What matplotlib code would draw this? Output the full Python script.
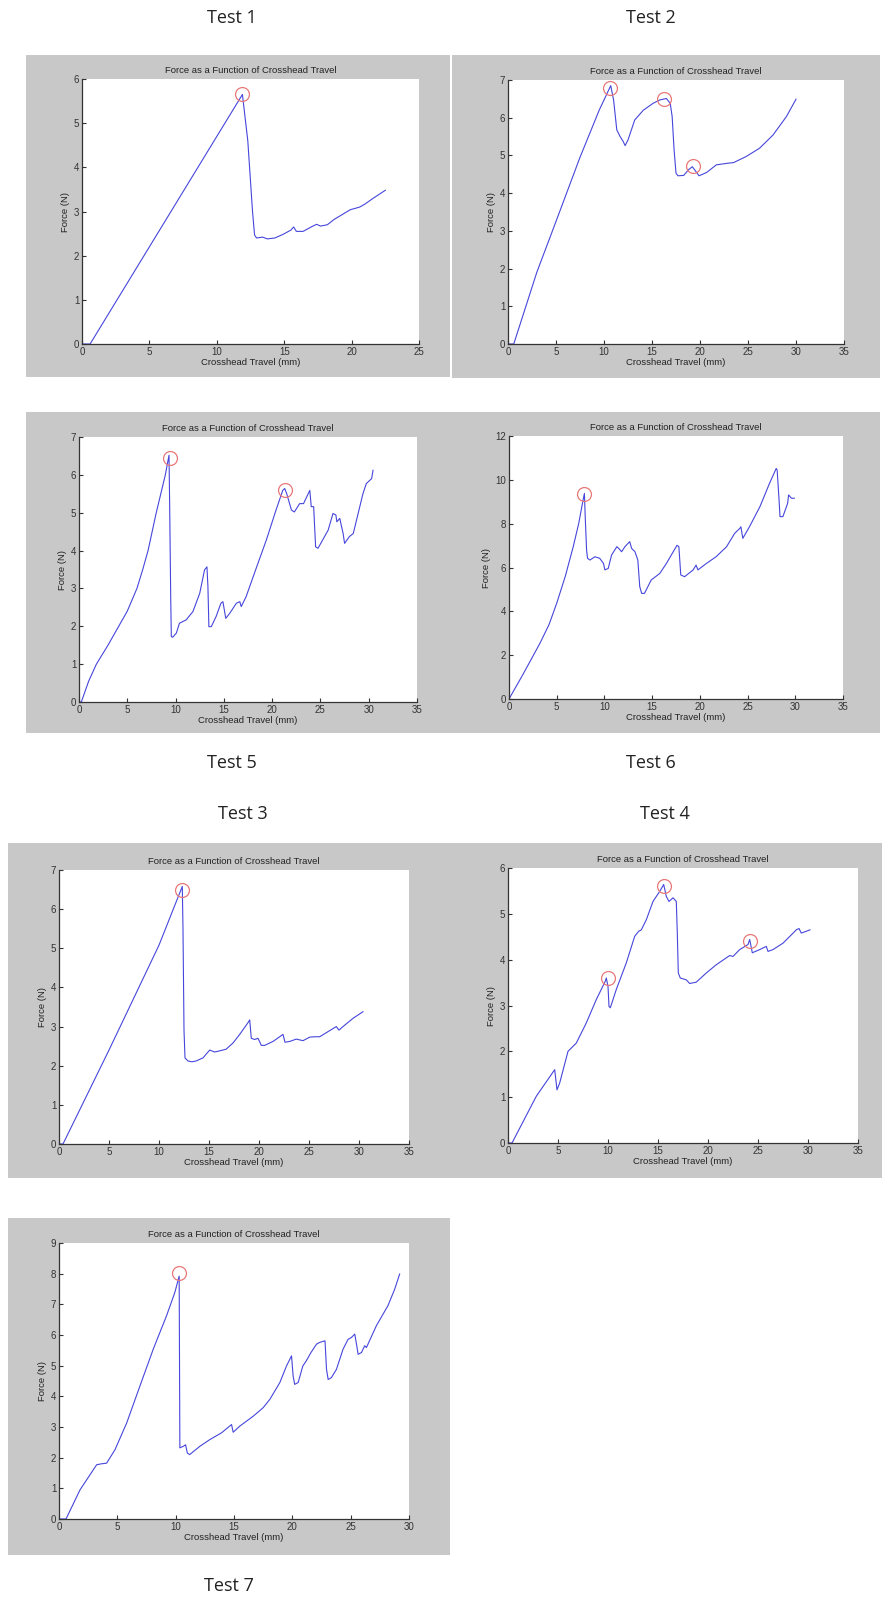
import matplotlib
matplotlib.use('Agg')
import matplotlib.pyplot as plt
from matplotlib.patches import Rectangle

plt.rcParams['font.family'] = ['Liberation Sans', 'DejaVu Sans']

# Test 1
t1_x = [0, 0.6, 3, 6, 9, 11.9, 12.3, 12.65, 12.8, 12.95, 13.4, 13.75, 14.3, 14.9, 15.5, 15.7, 15.9,
        16.4, 17.0, 17.4, 17.7, 18.2, 18.7, 19.3, 19.9, 20.6, 21.0, 21.6, 22.5]
t1_y = [0, 0, 1.2, 2.7, 4.2, 5.65, 4.6, 3.0, 2.47, 2.40, 2.42, 2.38, 2.40, 2.48, 2.58, 2.65, 2.55,
        2.55, 2.65, 2.71, 2.67, 2.70, 2.82, 2.93, 3.04, 3.10, 3.17, 3.30, 3.48]
t1_peaks_x = [11.85]
t1_peaks_y = [5.67]

# Test 2
t2_x = [0, 0.6, 3.0, 5.0, 7.5, 9.5, 10.7, 11.0, 11.33, 11.68, 12.0, 12.2, 12.5, 13.2, 14.1, 15.1,
        15.8, 16.5, 16.9, 17.1, 17.3, 17.5, 17.7, 18.3, 18.8, 19.2, 19.5, 19.9, 20.7, 21.7, 22.8,
        23.5, 24.8, 26.2, 27.6, 29.0, 30.0]
t2_y = [0, 0, 1.9, 3.25, 4.95, 6.2, 6.85, 6.47, 5.68, 5.5, 5.37, 5.26, 5.41, 5.94, 6.2, 6.38,
        6.47, 6.51, 6.38, 6.03, 5.15, 4.53, 4.46, 4.47, 4.62, 4.70, 4.60, 4.46, 4.55, 4.75, 4.79,
        4.81, 4.97, 5.19, 5.54, 6.03, 6.49]
t2_peaks_x = [10.6, 16.25, 19.3]
t2_peaks_y = [6.78, 6.49, 4.72]

# Test 5
t5_x = [0, 0.24, 1.0, 1.8, 3.0, 4.0, 5.0, 5.5, 6.0, 6.6, 7.15, 8.0, 8.94, 9.32, 9.39, 9.5, 9.56,
        9.7, 10.08, 10.4, 11.1, 11.8, 12.5, 13.0, 13.25, 13.35, 13.45, 13.7, 14.2, 14.7, 14.9,
        15.2, 15.6, 16.3, 16.65, 16.8, 17.3, 18.4, 19.4, 20.4, 21.1, 21.3, 21.5, 22.0, 22.3,
        22.85, 23.25, 23.9, 24.05, 24.3, 24.5, 24.75, 25.8, 26.3, 26.6, 26.7, 27.0, 27.35, 27.5,
        28.0, 28.4, 29.4, 29.75, 30.3, 30.45]
t5_y = [0, 0, 0.55, 1.0, 1.5, 1.95, 2.4, 2.7, 3.0, 3.5, 4.0, 5.0, 6.0, 6.52, 5.16, 2.70, 1.73,
        1.71, 1.82, 2.08, 2.17, 2.39, 2.87, 3.49, 3.57, 3.05, 1.99, 1.99, 2.26, 2.61, 2.65,
        2.21, 2.34, 2.61, 2.65, 2.52, 2.78, 3.57, 4.28, 5.07, 5.59, 5.64, 5.51, 5.07, 5.02,
        5.24, 5.24, 5.59, 5.16, 5.16, 4.10, 4.06, 4.54, 4.98, 4.94, 4.76, 4.85, 4.45, 4.19,
        4.37, 4.45, 5.5, 5.77, 5.9, 6.12]
t5_peaks_x = [9.39, 21.37]
t5_peaks_y = [6.45, 5.59]

# Test 6
t6_x = [0, 1.5, 3.24, 4.2, 5.0, 5.9, 6.73, 7.3, 7.7, 7.9, 8.0, 8.13, 8.23, 8.48, 9.0, 9.5, 9.9,
        10.05, 10.4, 10.75, 11.3, 11.5, 11.8, 12.15, 12.65, 12.85, 13.2, 13.5, 13.7, 13.9, 14.2,
        14.9, 15.8, 16.5, 17.6, 17.8, 18.0, 18.4, 19.3, 19.6, 19.8, 20.7, 21.7, 22.8, 23.65,
        24.2, 24.3, 24.5, 25.2, 26.3, 27.3, 28.0, 28.1, 28.3, 28.4, 28.7, 29.2, 29.3, 29.6, 29.9]
t6_y = [0, 1.15, 2.54, 3.4, 4.37, 5.6, 6.95, 8.0, 8.93, 9.38, 8.17, 6.8, 6.42, 6.34, 6.49, 6.42,
        6.19, 5.89, 5.96, 6.57, 6.95, 6.87, 6.72, 6.95, 7.18, 6.87, 6.72, 6.34, 5.13, 4.82,
        4.82, 5.43, 5.73, 6.19, 7.01, 6.95, 5.66, 5.58, 5.89, 6.11, 5.89, 6.19, 6.49, 6.95,
        7.56, 7.79, 7.86, 7.33, 7.86, 8.78, 9.84, 10.52, 10.45, 9.08, 8.32, 8.32, 8.93, 9.31,
        9.16, 9.16]
t6_peaks_x = [7.89]
t6_peaks_y = [9.34]

# Test 3
t3_x = [0, 0.4, 5.0, 10.0, 12.33, 12.4, 12.5, 12.6, 12.9, 13.3, 13.7, 14.4, 15.07, 15.57, 16.07,
        16.7, 17.4, 18.07, 18.9, 19.07, 19.23, 19.57, 19.9, 20.23, 20.57, 21.4, 22.4, 22.6,
        23.07, 23.73, 24.4, 25.07, 25.57, 26.07, 26.9, 27.73, 28.0, 28.4, 29.4, 30.4]
t3_y = [0, 0, 2.40, 5.08, 6.58, 5.47, 2.91, 2.2, 2.12, 2.1, 2.12, 2.2, 2.4, 2.35, 2.38,
        2.42, 2.58, 2.8, 3.1, 3.17, 2.7, 2.67, 2.70, 2.52, 2.52, 2.62, 2.8, 2.6,
        2.62, 2.68, 2.64, 2.73, 2.74, 2.74, 2.87, 3.0, 2.91, 3.0, 3.21, 3.38]
t3_peaks_x = [12.33]
t3_peaks_y = [6.49]

# Test 4
t4_x = [0, 0.4, 2.83, 4.67, 4.9, 5.17, 6.0, 6.83, 7.83, 8.83, 9.73, 9.83, 10.0, 10.1, 10.23,
        10.83, 11.83, 12.67, 13.07, 13.33, 13.83, 14.5, 15.17, 15.57, 15.83, 16.1, 16.5, 16.83,
        16.93, 17.03, 17.23, 17.83, 18.17, 18.83, 19.83, 20.83, 21.83, 22.17, 22.5, 23.17, 24.0,
        24.17, 24.43, 25.17, 25.83, 26.0, 26.5, 27.5, 28.83, 29.1, 29.33, 29.83, 30.2]
t4_y = [0, 0, 1.02, 1.60, 1.16, 1.31, 2.0, 2.18, 2.62, 3.13, 3.53, 3.6, 3.42, 2.98, 2.95,
        3.35, 3.93, 4.51, 4.62, 4.65, 4.87, 5.27, 5.49, 5.64, 5.38, 5.27, 5.35, 5.27,
        4.58, 3.71, 3.6, 3.56, 3.48, 3.51, 3.71, 3.89, 4.04, 4.09, 4.07, 4.22, 4.33,
        4.44, 4.15, 4.22, 4.29, 4.18, 4.22, 4.36, 4.65, 4.68, 4.58, 4.62, 4.65]
t4_peaks_x = [10.0, 15.57, 24.17]
t4_peaks_y = [3.59, 5.61, 4.41]

# Test 7
t7_x = [0, 0.6, 1.8, 3.23, 3.65, 4.08, 4.8, 5.8, 6.94, 8.08, 9.22, 9.93, 10.3, 10.36, 10.65,
        10.85, 11.0, 11.2, 12.07, 12.93, 13.93, 14.79, 14.93, 15.5, 16.64, 17.5, 18.07, 18.93,
        19.5, 19.93, 20.07, 20.2, 20.5, 20.9, 21.2, 21.6, 22.07, 22.35, 22.8, 22.93, 23.07,
        23.35, 23.78, 24.35, 24.78, 25.07, 25.35, 25.5, 25.64, 25.93, 26.2, 26.35, 27.2, 28.2,
        28.78, 29.2]
t7_y = [0, 0, 0.95, 1.77, 1.8, 1.82, 2.26, 3.13, 4.34, 5.54, 6.63, 7.39, 7.92, 2.32, 2.37,
        2.42, 2.15, 2.10, 2.37, 2.59, 2.81, 3.08, 2.83, 3.03, 3.35, 3.63, 3.90, 4.45,
        4.99, 5.32, 4.66, 4.39, 4.45, 4.99, 5.16, 5.43, 5.70, 5.76, 5.81, 4.88, 4.55,
        4.61, 4.88, 5.54, 5.86, 5.92, 6.03, 5.70, 5.37, 5.43, 5.65, 5.59, 6.30, 6.96,
        7.50, 7.99]
t7_peaks_x = [10.3]
t7_peaks_y = [8.02]

W, H = 883, 1598
fig = plt.figure(figsize=(W / 100, H / 100), dpi=100)


def box(x0, y0, x1, y1):
    return [x0 / W, 1 - y1 / H, (x1 - x0) / W, (y1 - y0) / H]


panels = [
    # gray box, axes box, data, limits, ytick step
    ((26, 55, 450, 377), (82, 79, 419, 344), t1_x, t1_y, t1_peaks_x, t1_peaks_y, 25, 6, 1),
    ((452, 55, 880, 378), (508, 80, 844, 344), t2_x, t2_y, t2_peaks_x, t2_peaks_y, 35, 7, 1),
    ((26, 412, 446, 733), (79, 437, 417, 702), t5_x, t5_y, t5_peaks_x, t5_peaks_y, 35, 7, 1),
    ((442, 412, 880, 733), (509, 436, 843, 699), t6_x, t6_y, t6_peaks_x, t6_peaks_y, 35, 12, 2),
    ((8, 843, 450, 1178), (59, 870, 409, 1144), t3_x, t3_y, t3_peaks_x, t3_peaks_y, 35, 7, 1),
    ((450, 843, 882, 1178), (508, 868, 858, 1143), t4_x, t4_y, t4_peaks_x, t4_peaks_y, 35, 6, 1),
    ((8, 1218, 450, 1555), (59, 1243, 409, 1519), t7_x, t7_y, t7_peaks_x, t7_peaks_y, 30, 9, 1),
]

for gbox, abox, xs, ys, px, py, xmax, ymax, ystep in panels:
    b = box(*gbox)
    fig.add_artist(Rectangle((b[0], b[1]), b[2], b[3], transform=fig.transFigure,
                             facecolor='#c8c8c8', edgecolor='none', zorder=0))
    ax = fig.add_axes(box(*abox))
    ax.set_facecolor('white')
    ax.plot(xs, ys, color='#4646dc', lw=0.8)
    ax.plot(px, py, 'o', mfc='none', mec='#e87878', ms=10, mew=0.9)
    ax.set_xlim(0, xmax)
    ax.set_ylim(0, ymax)
    ax.set_xticks(range(0, xmax + 1, 5))
    ax.set_yticks(range(0, ymax + 1, ystep))
    ax.tick_params(direction='in', length=3, labelsize=7, colors='#333333', pad=2)
    for s in ['top', 'right']:
        ax.spines[s].set_visible(False)
    for s in ['left', 'bottom']:
        ax.spines[s].set_color('#333333')
        ax.spines[s].set_linewidth(0.9)
    ax.set_title('Force as a Function of Crosshead Travel', fontsize=6.8, color='#222222', pad=4)
    ax.set_xlabel('Crosshead Travel (mm)', fontsize=6.8, color='#222222', labelpad=1)
    ax.set_ylabel('Force (N)', fontsize=6.8, color='#222222', labelpad=3)

labels = [('Test 1', 232, 18), ('Test 2', 651, 18), ('Test 5', 232, 763), ('Test 6', 651, 763),
          ('Test 3', 243, 814), ('Test 4', 665, 814), ('Test 7', 229, 1586)]
for txt, x, y in labels:
    fig.text(x / W, 1 - y / H, txt, ha='center', va='center', fontsize=13,
             family=['Open Sans', 'DejaVu Sans'], color='#222222')

fig.savefig('out.png', dpi=100, facecolor='white')
